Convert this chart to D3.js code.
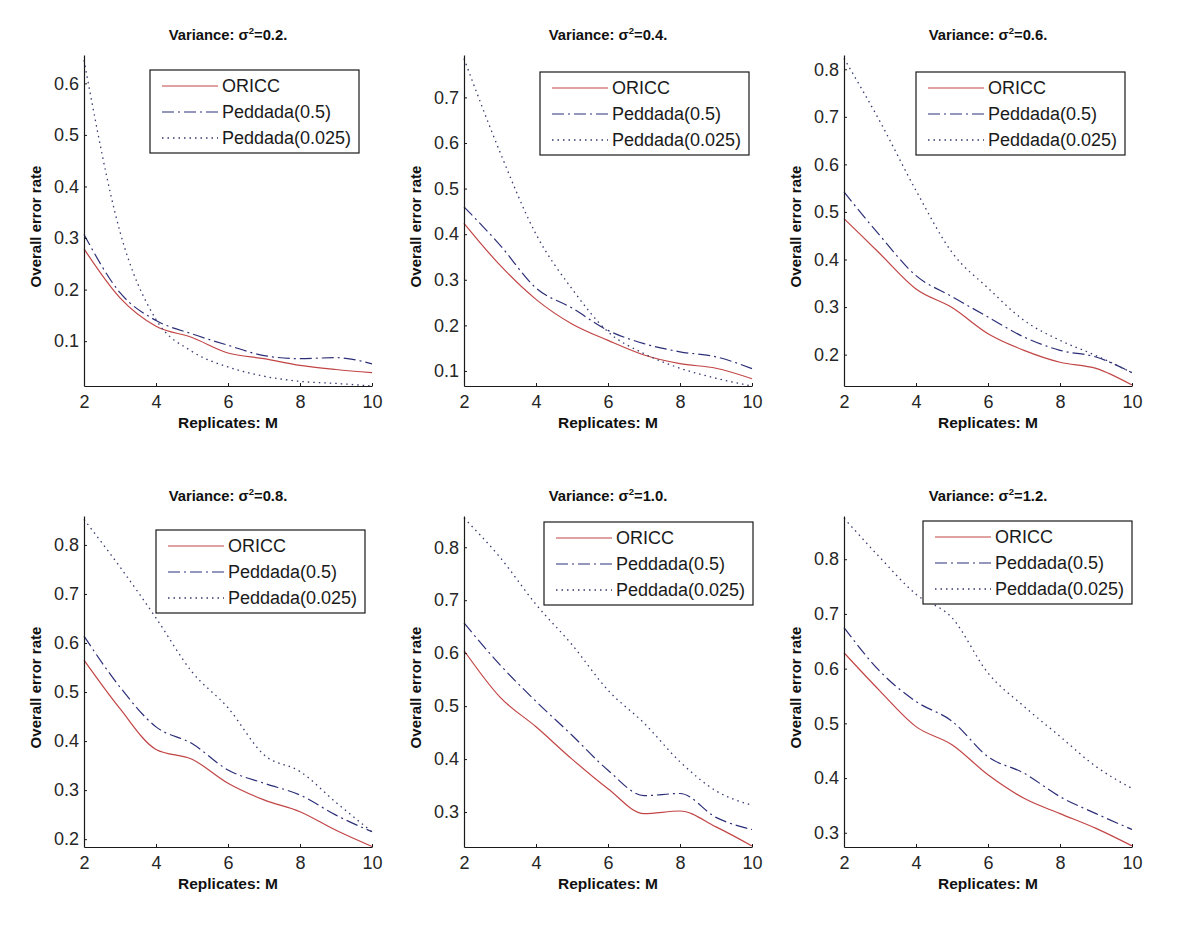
<!DOCTYPE html>
<html>
<head>
<meta charset="utf-8">
<script src="https://cdn.jsdelivr.net/npm/d3@7"></script>
<style>
  html, body { margin: 0; padding: 0; background: #ffffff; }
  svg { display: block; }
</style>
</head>
<body>
<svg id="chart" width="1200" height="941"></svg>
<script>
// ---------- data ----------
const M = [2, 3, 4, 5, 6, 7, 8, 9, 10];
const variances = ["0.2", "0.4", "0.6", "0.8", "1.0", "1.2"];
const seriesNames = ["ORICC", "Peddada(0.5)", "Peddada(0.025)"];

const oricc = [
  [0.279, 0.184, 0.129, 0.107, 0.077, 0.066, 0.053, 0.045, 0.039],
  [0.424, 0.332, 0.257, 0.203, 0.167, 0.135, 0.116, 0.106, 0.083],
  [0.486, 0.412, 0.338, 0.299, 0.244, 0.209, 0.184, 0.171, 0.136],
  [0.565, 0.466, 0.383, 0.363, 0.314, 0.280, 0.256, 0.218, 0.185],
  [0.605, 0.517, 0.461, 0.400, 0.344, 0.297, 0.302, 0.272, 0.236],
  [0.629, 0.559, 0.494, 0.461, 0.406, 0.363, 0.335, 0.308, 0.276]
];
const peddada05 = [
  [0.307, 0.194, 0.140, 0.114, 0.092, 0.072, 0.066, 0.068, 0.056],
  [0.460, 0.376, 0.282, 0.238, 0.189, 0.160, 0.142, 0.131, 0.105],
  [0.542, 0.450, 0.366, 0.322, 0.279, 0.237, 0.209, 0.195, 0.162],
  [0.614, 0.510, 0.429, 0.395, 0.341, 0.314, 0.290, 0.249, 0.215],
  [0.657, 0.578, 0.509, 0.445, 0.379, 0.331, 0.335, 0.290, 0.267],
  [0.675, 0.595, 0.540, 0.504, 0.439, 0.409, 0.366, 0.335, 0.306]
];
const peddada0025 = [
  [0.645, 0.312, 0.142, 0.080, 0.050, 0.032, 0.022, 0.018, 0.013],
  [0.785, 0.580, 0.400, 0.280, 0.186, 0.138, 0.106, 0.084, 0.067],
  [0.823, 0.690, 0.545, 0.415, 0.340, 0.272, 0.230, 0.198, 0.162],
  [0.852, 0.755, 0.651, 0.541, 0.468, 0.372, 0.338, 0.275, 0.215],
  [0.855, 0.781, 0.692, 0.616, 0.530, 0.468, 0.395, 0.340, 0.313],
  [0.875, 0.803, 0.736, 0.693, 0.592, 0.531, 0.476, 0.421, 0.381]
];

const yDomains = [
  [0.013, 0.655], [0.067, 0.793], [0.134, 0.830],
  [0.184, 0.859], [0.234, 0.859], [0.274, 0.879]
];
const yTicks = [
  [0.1, 0.2, 0.3, 0.4, 0.5, 0.6],
  [0.1, 0.2, 0.3, 0.4, 0.5, 0.6, 0.7],
  [0.2, 0.3, 0.4, 0.5, 0.6, 0.7, 0.8],
  [0.2, 0.3, 0.4, 0.5, 0.6, 0.7, 0.8],
  [0.3, 0.4, 0.5, 0.6, 0.7, 0.8],
  [0.3, 0.4, 0.5, 0.6, 0.7, 0.8]
];
const xTicks = [2, 4, 6, 8, 10];

// ---------- layout & style ----------
const FONT = '"Liberation Sans", Arial, sans-serif';
const colX = [84, 464, 844];
const rowY = [55, 516];
const plotW = 288, plotH = 331;
const legendPos = [[66, 15], [76, 17], [72, 17], [72, 14], [80, 6], [79, 5]];
const legendW = 209, legendH = 83;

const styles = [
  { color: "#c24545", dash: null, width: 1.2 },
  { color: "#2c2f78", dash: "12,4,2,4", width: 1.2 },
  { color: "#353a6e", dash: "1.5,4", width: 1.3 }
];

const svg = d3.select("#chart");
svg.append("rect").attr("width", 1200).attr("height", 941).attr("fill", "#fff");

const allSeries = [oricc, peddada05, peddada0025];

variances.forEach((v, i) => {
  const x0 = colX[i % 3];
  const y0 = rowY[Math.floor(i / 3)];
  const g = svg.append("g").attr("transform", `translate(${x0},${y0})`);

  const x = d3.scaleLinear().domain([2, 10]).range([0, plotW]);
  const y = d3.scaleLinear().domain(yDomains[i]).range([plotH, 0]);

  // lines
  const line = d3.line()
    .x((d, k) => x(M[k]))
    .y(d => y(d))
    .curve(d3.curveMonotoneX);

  allSeries.forEach((s, si) => {
    const p = g.append("path")
      .datum(s[i])
      .attr("d", line)
      .attr("fill", "none")
      .attr("stroke", styles[si].color)
      .attr("stroke-width", styles[si].width);
    if (styles[si].dash) p.attr("stroke-dasharray", styles[si].dash);
  });

  // axes
  const ax = g.append("g")
    .attr("transform", `translate(0,${plotH})`)
    .call(d3.axisBottom(x).tickValues(xTicks).tickSizeInner(-3).tickSizeOuter(0).tickPadding(9).tickFormat(d3.format("d")));
  const ay = g.append("g")
    .call(d3.axisLeft(y).tickValues(yTicks[i]).tickSizeInner(-3).tickSizeOuter(0).tickPadding(5).tickFormat(d3.format(".1f")));
  [ax, ay].forEach(a => {
    a.select(".domain").attr("stroke", "#1a1a1a").attr("stroke-width", 1.2);
    a.selectAll(".tick line").attr("stroke", "#1a1a1a");
    a.selectAll(".tick text").attr("font-family", FONT).attr("font-size", 18).attr("fill", "#262626");
  });

  // title
  const t = g.append("text")
    .attr("x", plotW / 2).attr("y", -15)
    .attr("text-anchor", "middle")
    .attr("font-family", FONT).attr("font-weight", "bold").attr("font-size", 14.8)
    .attr("fill", "#111");
  t.append("tspan").text("Variance: σ");
  t.append("tspan").attr("dy", -6).attr("font-size", 9.5).text("2");
  t.append("tspan").attr("dy", 6).text("=" + v + ".");

  // axis labels
  g.append("text")
    .attr("x", plotW / 2).attr("y", plotH + 42)
    .attr("text-anchor", "middle")
    .attr("font-family", FONT).attr("font-weight", "bold").attr("font-size", 15.5)
    .attr("fill", "#111")
    .text("Replicates: M");
  g.append("text")
    .attr("transform", `translate(-43,${plotH / 2 + 6}) rotate(-90)`)
    .attr("text-anchor", "middle")
    .attr("font-family", FONT).attr("font-weight", "bold").attr("font-size", 15)
    .attr("fill", "#111")
    .text("Overall error rate");

  // legend
  const [lx, ly] = legendPos[i];
  const lg = g.append("g").attr("transform", `translate(${lx},${ly})`);
  lg.append("rect")
    .attr("width", legendW).attr("height", legendH)
    .attr("fill", "#fff").attr("stroke", "#1a1a1a").attr("stroke-width", 1.2);
  seriesNames.forEach((name, si) => {
    const cy = 16 + si * 26;
    const l = lg.append("line")
      .attr("x1", 12).attr("x2", 68).attr("y1", cy).attr("y2", cy)
      .attr("stroke", styles[si].color).attr("stroke-width", styles[si].width);
    if (styles[si].dash) l.attr("stroke-dasharray", styles[si].dash);
    lg.append("text")
      .attr("x", 72).attr("y", cy).attr("dy", "0.35em")
      .attr("font-family", FONT).attr("font-size", 18).attr("fill", "#1a1a1a")
      .text(name);
  });
});
</script>
</body>
</html>
